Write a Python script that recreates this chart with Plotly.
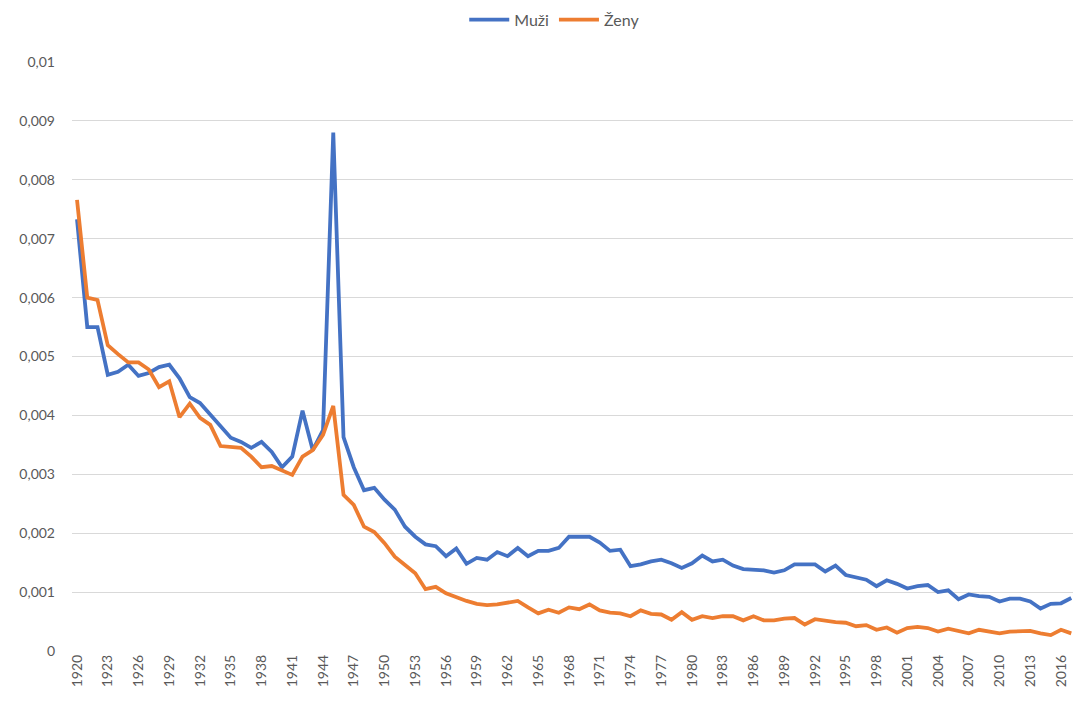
import plotly.graph_objects as go

years = list(range(1920, 2018))

muzi = [
    0.00733, 0.0055, 0.0055, 0.00469, 0.00474, 0.00486, 0.00467, 0.00472, 0.00482, 0.00486,
    0.00463, 0.00431, 0.00421, 0.00401, 0.0038, 0.00362, 0.00355, 0.00345, 0.00355, 0.00338,
    0.00312, 0.0033, 0.00408, 0.00341, 0.00375, 0.0088, 0.00363, 0.00312, 0.00273, 0.00277,
    0.00257, 0.0024, 0.00211, 0.00194, 0.00181, 0.00178, 0.00161, 0.00174, 0.00148, 0.00158,
    0.00155, 0.00168, 0.00161, 0.00175, 0.00161, 0.0017, 0.0017, 0.00175, 0.00194, 0.00194,
    0.00194, 0.00184, 0.0017, 0.00172, 0.00144, 0.00147, 0.00152, 0.00155, 0.00149, 0.00141,
    0.00149, 0.00162, 0.00152, 0.00155, 0.00145, 0.00139, 0.00138, 0.00137, 0.00133, 0.00137,
    0.00147, 0.00147, 0.00147, 0.00135, 0.00145, 0.00129, 0.00125, 0.00121, 0.0011, 0.0012,
    0.00114, 0.00106, 0.0011, 0.00112, 0.001, 0.00103, 0.00088, 0.00096, 0.00093, 0.00092,
    0.00084, 0.00089, 0.00089, 0.00084, 0.00072, 0.0008, 0.00081, 0.0009,
]

zeny = [
    0.00766, 0.006, 0.00596, 0.00519, 0.00504, 0.0049, 0.0049, 0.00478, 0.00448, 0.00458,
    0.00397, 0.0042, 0.00396, 0.00384, 0.00348, 0.00347, 0.00345, 0.0033, 0.00312, 0.00314,
    0.00307, 0.00299, 0.0033, 0.00341, 0.00367, 0.00416, 0.00265, 0.00248, 0.00211, 0.00202,
    0.00183, 0.0016, 0.00146, 0.00132, 0.00105, 0.00109, 0.00098, 0.00091, 0.00085, 0.0008,
    0.00078, 0.00079, 0.00082, 0.00085, 0.00074, 0.00064, 0.0007, 0.00065, 0.00074, 0.00071,
    0.00079, 0.00069, 0.00065, 0.00064, 0.00059, 0.00069, 0.00063, 0.00062, 0.00053, 0.00066,
    0.00053, 0.00059, 0.00056, 0.00059, 0.00059, 0.00052, 0.00059, 0.00052, 0.00052, 0.00055,
    0.00056, 0.00045, 0.00054, 0.00051, 0.00049, 0.00048, 0.00042, 0.00044, 0.00036, 0.0004,
    0.00031, 0.00039, 0.00041, 0.00039, 0.00033, 0.00038, 0.00034, 0.0003, 0.00036, 0.00033,
    0.0003, 0.00033, 0.00034, 0.00034, 0.0003, 0.00027, 0.00036, 0.0003,
]

x_ticks = list(range(1920, 2017, 3))
y_ticks = [i / 1000 for i in range(0, 11)]
y_labels = ["0"] + ["0,{:03d}".format(i) for i in range(1, 10)] + ["0,01"]

fig = go.Figure()
fig.add_trace(go.Scatter(x=years, y=muzi, mode="lines", name="Muži",
                         line=dict(color="#4472C4", width=3.8)))
fig.add_trace(go.Scatter(x=years, y=zeny, mode="lines", name="Ženy",
                         line=dict(color="#ED7D31", width=3.8)))

fig.update_layout(
    width=1073, height=702,
    margin=dict(l=72, r=0, t=62, b=51, autoexpand=False),
    paper_bgcolor="white", plot_bgcolor="white",
    font=dict(family="Lato, Open Sans, sans-serif", size=14, color="#595959"),
    legend=dict(orientation="h", xref="container", yref="container",
                x=0.517, y=0.972, xanchor="center", yanchor="middle",
                font=dict(size=16, color="#595959"), itemwidth=40,
                tracegroupgap=0),
    showlegend=True,
)
fig.update_xaxes(range=[1919.51, 2017.17], tickvals=x_ticks,
                 ticktext=[str(v) for v in x_ticks], tickangle=-90,
                 showgrid=False, zeroline=False, showline=False,
                 ticks="", automargin=False,
                 tickfont=dict(size=14, color="#595959"))
fig.update_yaxes(range=[0, 0.01], tickvals=y_ticks, ticktext=y_labels,
                 showgrid=True, gridcolor="#d9d9d9", gridwidth=1,
                 zeroline=False, showline=False, ticks="", automargin=False,
                 tickfont=dict(size=14, color="#595959"), ticklabelstandoff=16)

fig.write_html("out.html",
               config={"displayModeBar": False},
               post_script="document.body.style.margin='0px';"
                           "document.body.style.overflow='hidden';")
